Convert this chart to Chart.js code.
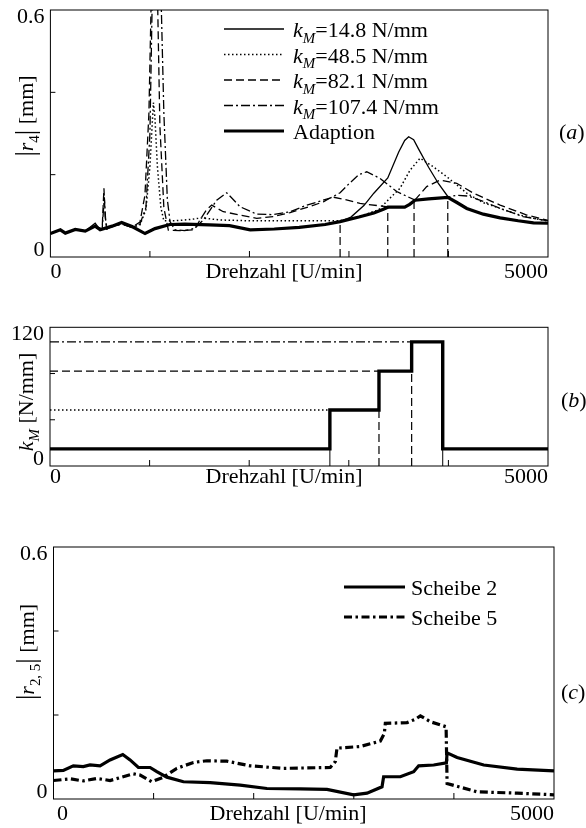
<!DOCTYPE html>
<html>
<head>
<meta charset="utf-8">
<script src="https://cdn.jsdelivr.net/npm/chart.js@4.4.1/dist/chart.umd.min.js"></script>
<style>
  html, body { margin: 0; padding: 0; background: #fff; }
  #page { position: relative; width: 586px; height: 828px; overflow: hidden; background: #fff; }
  canvas { position: absolute; left: 0; }
</style>
</head>
<body>
<div id="page">
  <canvas id="chartA" width="586" height="292" style="top:0px"></canvas>
  <canvas id="chartB" width="586" height="200" style="top:300px"></canvas>
  <canvas id="chartC" width="586" height="298" style="top:530px"></canvas>
</div>
<script>
// ---- (a) |r4| amplitude over speed, one curve per stiffness ----
var rpm148 = [0, 100, 150, 250, 350, 450, 500, 620, 716, 820, 951, 1051, 1200, 1350, 1600, 1800, 2008, 2250, 2500, 2760, 2911, 3020, 3150, 3250, 3390, 3500, 3560, 3600, 3650, 3700, 3800, 3900, 3993, 4080, 4184, 4350, 4519, 4700, 4854, 5000];
var amp148 = [0.057, 0.066, 0.058, 0.067, 0.063, 0.082, 0.066, 0.075, 0.084, 0.074, 0.057, 0.069, 0.079, 0.080, 0.078, 0.076, 0.066, 0.068, 0.072, 0.079, 0.086, 0.097, 0.125, 0.155, 0.192, 0.255, 0.283, 0.292, 0.285, 0.262, 0.218, 0.178, 0.147, 0.133, 0.118, 0.104, 0.095, 0.088, 0.083, 0.082];

var rpm485 = [0, 100, 150, 250, 350, 450, 500, 620, 716, 820, 900, 960, 1000, 1020, 1035, 1050, 1075, 1110, 1140, 1250, 1400, 1520, 1700, 2000, 2500, 2800, 2911, 3100, 3300, 3400, 3513, 3614, 3715, 3848, 3983, 4184, 4350, 4519, 4700, 4854, 5000];
var amp485 = [0.057, 0.066, 0.058, 0.067, 0.063, 0.075, 0.066, 0.075, 0.082, 0.072, 0.078, 0.115, 0.22, 0.31, 0.375, 0.34, 0.22, 0.12, 0.088, 0.088, 0.091, 0.095, 0.09, 0.088, 0.088, 0.088, 0.088, 0.098, 0.115, 0.14, 0.167, 0.211, 0.240, 0.219, 0.195, 0.155, 0.132, 0.118, 0.103, 0.094, 0.087];

var rpm821 = [0, 100, 150, 250, 350, 450, 520, 538, 550, 565, 620, 716, 820, 900, 950, 990, 1015, 1045, 1075, 1100, 1140, 1185, 1300, 1446, 1503, 1570, 1621, 1737, 1906, 2073, 2240, 2408, 2600, 2743, 2830, 2950, 3111, 3390, 3560, 3650, 3781, 3916, 4083, 4250, 4519, 4787, 5000];
var amp821 = [0.057, 0.066, 0.058, 0.067, 0.063, 0.075, 0.068, 0.167, 0.10, 0.068, 0.074, 0.080, 0.072, 0.085, 0.15, 0.35, 0.65, 0.95, 0.65, 0.32, 0.12, 0.065, 0.064, 0.066, 0.09, 0.115, 0.126, 0.110, 0.102, 0.094, 0.098, 0.108, 0.122, 0.134, 0.146, 0.140, 0.130, 0.122, 0.121, 0.135, 0.171, 0.187, 0.179, 0.155, 0.126, 0.102, 0.089];

var rpm1074 = [0, 100, 150, 250, 350, 450, 520, 542, 555, 570, 620, 716, 820, 900, 960, 1000, 1025, 1070, 1110, 1140, 1175, 1202, 1252, 1350, 1450, 1537, 1671, 1772, 1906, 2073, 2240, 2408, 2576, 2810, 2911, 3000, 3100, 3178, 3312, 3480, 3664, 3800, 3993, 4080, 4200, 4350, 4519, 4750, 5000];
var amp1074 = [0.057, 0.066, 0.058, 0.067, 0.063, 0.075, 0.068, 0.145, 0.09, 0.068, 0.074, 0.080, 0.072, 0.08, 0.12, 0.3, 0.65, 0.95, 0.65, 0.35, 0.14, 0.086, 0.066, 0.064, 0.07, 0.09, 0.138, 0.156, 0.122, 0.104, 0.103, 0.110, 0.126, 0.143, 0.156, 0.178, 0.200, 0.207, 0.191, 0.159, 0.138, 0.141, 0.145, 0.150, 0.148, 0.135, 0.118, 0.098, 0.088];

var rpmAdapt = [0, 100, 150, 250, 350, 450, 500, 620, 716, 820, 951, 1051, 1200, 1350, 1600, 1800, 2008, 2250, 2500, 2760, 2911, 3100, 3250, 3346, 3390, 3560, 3610, 3664, 3800, 3993, 4080, 4184, 4350, 4519, 4700, 4854, 5000];
var ampAdapt = [0.057, 0.066, 0.058, 0.067, 0.063, 0.075, 0.066, 0.075, 0.084, 0.074, 0.057, 0.069, 0.079, 0.080, 0.078, 0.076, 0.066, 0.068, 0.072, 0.079, 0.086, 0.097, 0.107, 0.116, 0.121, 0.121, 0.128, 0.138, 0.141, 0.145, 0.133, 0.118, 0.104, 0.095, 0.088, 0.083, 0.082];

// switching speeds marked in (a)
var switchRpmA = [2911, 3390, 3654, 3993];
var switchAmpA = [0.086, 0.121, 0.138, 0.145];

// ---- (b) stiffness schedule ----
var stepRpm = [0, 2810, 3303, 3631, 3943, 5000];
var stepKm = [14.8, 48.5, 82.1, 107.4, 14.8, 14.8];
var levelKm = [48.5, 82.1, 107.4];
var levelEnd = [2810, 3303, 3631];
var dropRpmB = [2810, 3943];      // thin solid drop lines
var dashRpmB = [3303, 3631];      // dashed drop lines
var dashTopB = [48.5, 82.1];

// ---- (c) discs 2 and 5 ----
var rpmS2 = [0, 98, 198, 298, 365, 465, 565, 692, 765, 848, 965, 1032, 1132, 1298, 1565, 1865, 2132, 2465, 2732, 2998, 3132, 3282, 3298, 3465, 3598, 3648, 3798, 3925, 3932, 4032, 4298, 4632, 5000];
var ampS2 = [0.067, 0.068, 0.079, 0.077, 0.081, 0.079, 0.093, 0.106, 0.093, 0.075, 0.075, 0.065, 0.052, 0.041, 0.039, 0.033, 0.025, 0.024, 0.023, 0.010, 0.014, 0.029, 0.053, 0.053, 0.065, 0.079, 0.081, 0.086, 0.110, 0.099, 0.081, 0.071, 0.067];
var rpmS5 = [0, 167, 298, 432, 565, 798, 865, 982, 1098, 1232, 1398, 1532, 1732, 1965, 2298, 2765, 2815, 2832, 3065, 3265, 3305, 3315, 3532, 3615, 3665, 3765, 3922, 3932, 4065, 4232, 4632, 5000];
var ampS5 = [0.044, 0.048, 0.043, 0.049, 0.044, 0.060, 0.057, 0.041, 0.052, 0.073, 0.087, 0.091, 0.090, 0.079, 0.073, 0.075, 0.089, 0.121, 0.125, 0.138, 0.156, 0.180, 0.182, 0.190, 0.198, 0.184, 0.172, 0.037, 0.028, 0.017, 0.014, 0.010];

var FONT = '"Liberation Serif", "Times New Roman", serif';
var DOTTED = [1.5, 2.5];
var DASHED = [8, 4];
var DASHDOT = [9, 3, 2, 3];

// helpers to turn the arrays into points
function pts(xs, ys) {
    return xs.map(function(x, i) { return { x: x, y: ys[i] }; });
}
function verticals(xs, tops) {
    var out = [];
    xs.forEach(function(x, i) {
        out.push({ x: x, y: 0 }, { x: x, y: tops[i] }, { x: x, y: null });
    });
    return out;
}
function line(data, width, dash, extra) {
    var ds = {
        data: data, borderColor: '#000', borderWidth: width, borderDash: dash || [],
        pointRadius: 0, fill: false, tension: 0, spanGaps: false, borderJoinStyle: 'miter'
    };
    for (var k in extra) ds[k] = extra[k];
    return ds;
}

// rich text with italic letters and subscripts
function partFont(p, size) {
    var s = p.sub ? size * 0.68 : (p.size || size);
    return (p.it ? 'italic ' : '') + s + 'px ' + FONT;
}
function richWidth(ctx, parts, size) {
    var w = 0;
    parts.forEach(function(p) { ctx.font = partFont(p, size); w += ctx.measureText(p.t).width; });
    return w;
}
function drawRich(ctx, parts, x, y, size, align) {
    var w = richWidth(ctx, parts, size);
    var cx = align === 'center' ? x - w / 2 : (align === 'right' ? x - w : x);
    ctx.textAlign = 'left';
    ctx.textBaseline = 'alphabetic';
    parts.forEach(function(p) {
        ctx.font = partFont(p, size);
        ctx.fillText(p.t, cx, y + (p.sub ? size * 0.27 : 0) + (p.dy || 0));
        cx += ctx.measureText(p.t).width;
    });
}

// frame, inward ticks, labels, legend
var decorPlugin = {
    id: 'decor',
    afterDraw: function(chart, args, o) {
        var ctx = chart.ctx, a = chart.chartArea;
        var xs = chart.scales.x, ys = chart.scales.y;
        var size = 22;
        ctx.save();
        ctx.strokeStyle = '#000';
        ctx.fillStyle = '#000';
        ctx.lineWidth = 1;
        ctx.setLineDash([]);
        ctx.strokeRect(a.left, a.top, a.right - a.left, a.bottom - a.top);

        ctx.beginPath();
        o.xTicks.forEach(function(v) {
            var px = xs.getPixelForValue(v);
            ctx.moveTo(px, a.bottom); ctx.lineTo(px, a.bottom - 6);
        });
        o.yTicks.forEach(function(v) {
            var py = ys.getPixelForValue(v);
            ctx.moveTo(a.left, py); ctx.lineTo(a.left + 5, py);
        });
        ctx.stroke();

        ctx.font = size + 'px ' + FONT;
        ctx.textBaseline = 'alphabetic';
        ctx.textAlign = 'left';
        ctx.fillText('0', a.left + (o.x0Off || 0), a.bottom + o.xBase);
        ctx.textAlign = 'right';
        ctx.fillText('5000', a.right, a.bottom + o.xBase);
        ctx.fillText(o.yTop, a.left - 6, a.top + 13);
        ctx.fillText('0', a.left - 6, a.bottom - 1);
        ctx.textAlign = 'center';
        ctx.fillText('Drehzahl [U/min]', o.xTitleX, a.bottom + o.xBase);

        ctx.save();
        ctx.translate(o.yTitle.x, o.yTitle.y);
        ctx.rotate(-Math.PI / 2);
        drawRich(ctx, o.yTitle.parts, 0, 0, size, 'center');
        ctx.restore();

        drawRich(ctx, [{ t: '(' }, { t: o.panel.t, it: true }, { t: ')' }], o.panel.x, o.panel.y, size, 'left');

        if (o.legend) {
            var L = o.legend;
            L.rows.forEach(function(r) {
                var ds = chart.data.datasets[r.ds];
                ctx.save();
                ctx.lineWidth = ds.borderWidth;
                ctx.setLineDash(ds.borderDash || []);
                ctx.beginPath();
                ctx.moveTo(L.x1, r.y - 1);
                ctx.lineTo(L.x2, r.y - 1);
                ctx.stroke();
                ctx.restore();
                drawRich(ctx, r.parts, L.tx, r.y + 7, size, 'left');
            });
        }
        ctx.restore();
    }
};

function makeChart(id, datasets, yMax, padding, decor) {
    return new Chart(document.getElementById(id).getContext('2d'), {
        type: 'line',
        data: { datasets: datasets },
        options: {
            responsive: false,
            animation: false,
            devicePixelRatio: 1,
            layout: { padding: padding },
            scales: {
                x: { type: 'linear', min: 0, max: 5000, display: false },
                y: { type: 'linear', min: 0, max: yMax, display: false }
            },
            plugins: { legend: { display: false }, tooltip: { enabled: false }, decor: decor }
        },
        plugins: [decorPlugin]
    });
}

function kmParts(val) {
    return [{ t: 'k', it: true }, { t: 'M', it: true, sub: true }, { t: '=' + val + ' N/mm' }];
}

// chart (a)
makeChart('chartA', [
    line(pts(rpm148, amp148), 1.3, [], { order: 2 }),
    line(pts(rpm485, amp485), 1.5, DOTTED, { order: 3 }),
    line(pts(rpm821, amp821), 1.3, DASHED, { order: 4 }),
    line(pts(rpm1074, amp1074), 1.3, DASHDOT, { order: 5 }),
    line(pts(rpmAdapt, ampAdapt), 3.2, [], { order: 1 }),
    line(verticals(switchRpmA, switchAmpA), 1.2, DASHED, { order: 6 })
], 0.6, { left: 50.4, right: 38, top: 10, bottom: 35 }, {
    xTicks: [1000, 2000, 3000, 4000], yTicks: [0.2, 0.4], yTop: '0.6',
    xBase: 21, x0Off: 0, xTitleX: 284,
    yTitle: { x: 33, y: 116, parts: [{ t: '|', size: 27, dy: 1 }, { t: 'r', it: true }, { t: '4', sub: true }, { t: '|', size: 27, dy: 1 }, { t: ' [mm]' }] },
    panel: { t: 'a', x: 559, y: 139 },
    legend: {
        x1: 224, x2: 284, tx: 293,
        rows: [
            { ds: 0, y: 30, parts: kmParts('14.8') },
            { ds: 1, y: 55.5, parts: kmParts('48.5') },
            { ds: 2, y: 81, parts: kmParts('82.1') },
            { ds: 3, y: 106.5, parts: kmParts('107.4') },
            { ds: 4, y: 132, parts: [{ t: 'Adaption' }] }
        ]
    }
});

// chart (b)
makeChart('chartB', [
    line(pts(stepRpm, stepKm), 3.4, [], { stepped: 'before', order: 1 }),
    line(pts([0, levelEnd[0]], [levelKm[0], levelKm[0]]), 1.4, DOTTED, { order: 2 }),
    line(pts([0, levelEnd[1]], [levelKm[1], levelKm[1]]), 1.3, DASHED, { order: 3 }),
    line(pts([0, levelEnd[2]], [levelKm[2], levelKm[2]]), 1.3, DASHDOT, { order: 4 }),
    line(verticals(dropRpmB, [stepKm[0], stepKm[0]]), 1, [], { order: 5 }),
    line(verticals(dashRpmB, dashTopB), 1.2, DASHED, { order: 6 })
], 120, { left: 50, right: 38, top: 27.3, bottom: 34 }, {
    xTicks: [1000, 2000, 3000, 4000], yTicks: [40, 80], yTop: '120',
    xBase: 17, x0Off: 0, xTitleX: 284,
    yTitle: { x: 33, y: 102, parts: [{ t: 'k', it: true }, { t: 'M', it: true, sub: true }, { t: ' [N/mm]' }] },
    panel: { t: 'b', x: 561, y: 107 }
});

// chart (c)
makeChart('chartC', [
    line(pts(rpmS2, ampS2), 3.2, [], { order: 1 }),
    line(pts(rpmS5, ampS5), 3.2, [8, 3.5, 2.5, 3.5], { order: 2 })
], 0.6, { left: 53.5, right: 32, top: 17, bottom: 29 }, {
    xTicks: [1000, 2000, 3000, 4000], yTicks: [0.2, 0.4], yTop: '0.6',
    xBase: 21, x0Off: 3.5, xTitleX: 288,
    yTitle: { x: 34, y: 122, parts: [{ t: '|', size: 27, dy: 1 }, { t: 'r', it: true }, { t: '2, 5', sub: true }, { t: '|', size: 27, dy: 1 }, { t: ' [mm]' }] },
    panel: { t: 'c', x: 561, y: 169 },
    legend: {
        x1: 344, x2: 405, tx: 411,
        rows: [
            { ds: 0, y: 58, parts: [{ t: 'Scheibe 2' }] },
            { ds: 1, y: 88, parts: [{ t: 'Scheibe 5' }] }
        ]
    }
});
</script>
</body>
</html>
